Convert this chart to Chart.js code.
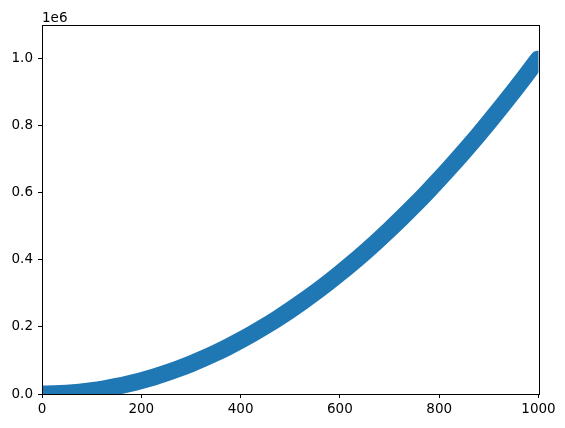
<!DOCTYPE html>
<html>
<head>
<meta charset="utf-8">
<script src="https://cdn.jsdelivr.net/npm/chart.js@4/dist/chart.umd.min.js"></script>
<style>
  html, body { margin: 0; padding: 0; background: #fff; }
  #wrap { width: 565px; height: 428px; }
</style>
</head>
<body>
<div id="wrap"><canvas id="c" width="565" height="428"></canvas></div>
<script>
// Values (x, y in absolute units; y axis shown in 1e6)
const xValues = [0, 25, 50, 75, 100, 125, 150, 175, 200, 225, 250, 275, 300, 325, 350, 375, 400, 425, 450, 475, 500,
                 525, 550, 575, 600, 625, 650, 675, 700, 725, 750, 775, 800, 825, 850, 875, 900, 925, 950, 975, 999];
const yValues = [0, 625, 2500, 5625, 10000, 15625, 22500, 30625, 40000, 50625, 62500, 75625, 90000, 105625, 122500,
                 140625, 160000, 180625, 202500, 225625, 250000, 275625, 302500, 330625, 360000, 390625, 422500,
                 455625, 490000, 525625, 562500, 600625, 640000, 680625, 722500, 765625, 810000, 855625, 902500,
                 950625, 998001];
const xTicks = [0, 200, 400, 600, 800, 1000];
const yTicks = [0, 200000, 400000, 600000, 800000, 1000000];
const offsetLabel = "1e6";

const FONT = "'DejaVu Sans', sans-serif";
const FS = 13.5;

const points = xValues.map((x, i) => ({ x: x, y: yValues[i] }));

const frame = {
  id: 'frame',
  afterDraw(chart) {
    const { ctx, chartArea: a } = chart;
    ctx.save();
    ctx.strokeStyle = '#000';
    ctx.lineWidth = 1;
    ctx.strokeRect(Math.round(a.left) + 0.5, Math.round(a.top) + 0.5,
                   Math.round(a.right - a.left), Math.round(a.bottom - a.top));
    ctx.fillStyle = '#000';
    ctx.font = FS + 'px ' + FONT;
    ctx.textBaseline = 'alphabetic';
    ctx.textAlign = 'left';
    ctx.fillText(offsetLabel, a.left, 21.5);
    ctx.restore();
  }
};

new Chart(document.getElementById('c'), {
  type: 'line',
  data: {
    datasets: [{
      data: points,
      borderColor: '#1f77b4',
      backgroundColor: '#1f77b4',
      borderWidth: 17,
      borderCapStyle: 'round',
      borderJoinStyle: 'round',
      cubicInterpolationMode: 'monotone',
      pointRadius: 0,
      fill: false,
      clip: 0
    }]
  },
  options: {
    responsive: false,
    animation: false,
    devicePixelRatio: 1,
    layout: { padding: { top: 25, right: 26.5, left: 0, bottom: 0 } },
    plugins: { legend: { display: false }, tooltip: { enabled: false } },
    scales: {
      x: {
        type: 'linear',
        min: 0, max: 1000,
        afterBuildTicks(s) { s.ticks = xTicks.map(v => ({ value: v })); },
        afterFit(s) { s.height = 34; },
        grid: { drawOnChartArea: false, drawTicks: true, tickLength: 4, tickColor: '#000', tickWidth: 1 },
        border: { display: true, color: '#000', width: 1 },
        ticks: { color: '#000', font: { family: FONT, size: FS }, padding: 3, maxRotation: 0,
                 callback: v => String(v) }
      },
      y: {
        type: 'linear',
        min: 0, max: 1100000,
        afterBuildTicks(s) { s.ticks = yTicks.map(v => ({ value: v })); },
        afterFit(s) { s.width = 42; },
        grid: { drawOnChartArea: false, drawTicks: true, tickLength: 4, tickColor: '#000', tickWidth: 1 },
        border: { display: true, color: '#000', width: 1 },
        ticks: { color: '#000', font: { family: FONT, size: FS }, padding: 5,
                 callback: v => (v / 1e6).toFixed(1) }
      }
    }
  },
  plugins: [frame]
});
</script>
</body>
</html>
